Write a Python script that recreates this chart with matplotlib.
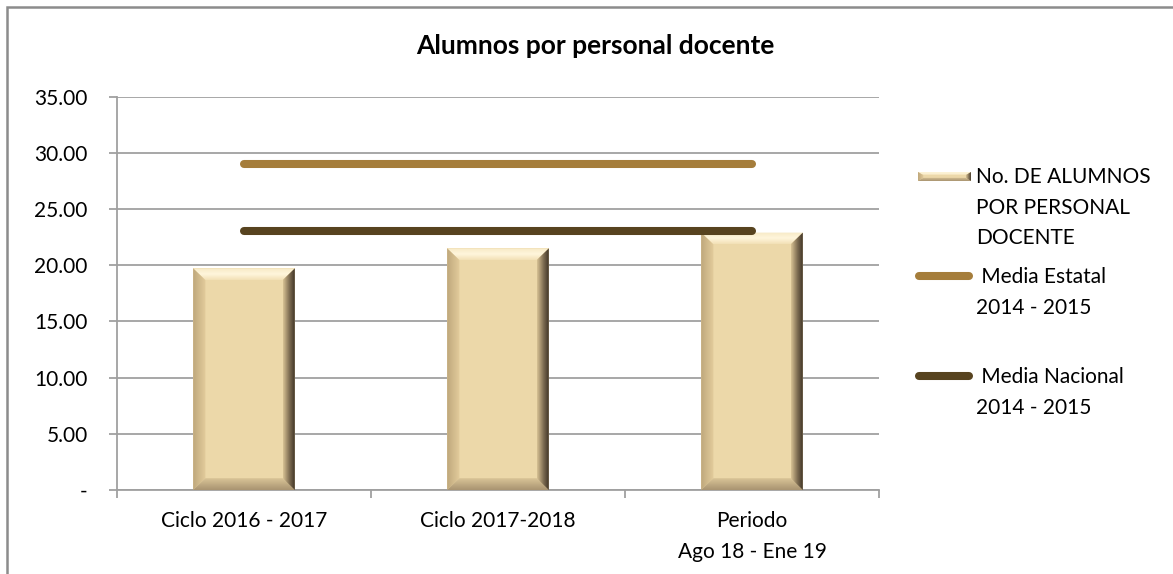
import matplotlib
matplotlib.use("Agg")
import matplotlib.pyplot as plt
import numpy as np
from matplotlib.lines import Line2D
from matplotlib.patches import Polygon, Rectangle
from matplotlib.colors import LinearSegmentedColormap

plt.rcParams["font.family"] = ["Lato", "DejaVu Sans"]

# Data
categories = ["Ciclo 2016 - 2017", "Ciclo 2017-2018", "Periodo\nAgo 18 - Ene 19"]
alumnos = [19.72, 21.5, 22.9]
media_estatal = [29.0, 29.0, 29.0]
media_nacional = [23.0, 23.0, 23.0]
y_ticks = [0, 5, 10, 15, 20, 25, 30, 35]

label_bar = "No. DE ALUMNOS\nPOR PERSONAL\nDOCENTE"
label_estatal = " Media Estatal\n2014 - 2015"
label_nacional = " Media Nacional\n2014 - 2015"

face = "#ECD8A9"
col_estatal = "#A57D3B"
col_nacional = "#57431F"
grid_col = "#A0A0A0"
fs = 15


def gradient_fill(ax, poly_pts, colors, horizontal, extent):
    cmap = LinearSegmentedColormap.from_list("g", colors)
    grad = np.linspace(0, 1, 64)
    arr = grad.reshape(1, -1) if horizontal else grad.reshape(-1, 1)
    poly = Polygon(poly_pts, closed=True, facecolor="none", edgecolor="none",
                   transform=ax.transData)
    ax.add_patch(poly)
    im = ax.imshow(arr, cmap=cmap, extent=extent, origin="lower",
                   aspect="auto", interpolation="bilinear", zorder=3)
    im.set_clip_path(poly)


def bevel(ax, x0, x1, y0, y1, dx, dy):
    # top
    gradient_fill(ax, [(x0, y1), (x1, y1), (x1 - dx, y1 - dy), (x0 + dx, y1 - dy)],
                  ["#F2E0B6", "#FFF6DC", "#F7E9C6"], False, [x0, x1, y1 - dy, y1])
    # left
    gradient_fill(ax, [(x0, y1), (x0 + dx, y1 - dy), (x0 + dx, y0 + dy), (x0, y0)],
                  ["#BFA77C", "#E3CD9C"], True, [x0, x0 + dx, y0, y1])
    # bottom
    gradient_fill(ax, [(x0, y0), (x0 + dx, y0 + dy), (x1 - dx, y0 + dy), (x1, y0)],
                  ["#A99471", "#D9C497"], False, [x0, x1, y0, y0 + dy])
    # right
    gradient_fill(ax, [(x1, y1), (x1, y0), (x1 - dx, y0 + dy), (x1 - dx, y1 - dy)],
                  ["#D8C294", "#7E6D52", "#352B20"], True, [x1 - dx, x1, y0, y1])


fig = plt.figure(figsize=(11.73, 5.74), dpi=100)
ax = fig.add_axes([117 / 1173, 84 / 574, 762 / 1173, 393.4 / 574])

x = np.arange(len(categories))
bars = ax.bar(x, alumnos, width=0.4, color=face, zorder=2)
for b in bars:
    bevel(ax, b.get_x(), b.get_x() + b.get_width(), 0, b.get_height(), 0.048, 1.05)

ax.plot(x, media_estatal, color=col_estatal, lw=5.8, solid_capstyle="round", zorder=4)
ax.plot(x, media_nacional, color=col_nacional, lw=5.8, solid_capstyle="round", zorder=4)

ax.set_xlim(-0.5, len(categories) - 0.5)
ax.set_ylim(0, 35)

ax.set_yticks(y_ticks)
ax.set_yticklabels(["-" if v == 0 else f"{v:.2f}" for v in y_ticks])
ax.yaxis.grid(True, color=grid_col, lw=1.3, zorder=0)
ax.set_axisbelow(True)

ax.set_xticks(x)
ax.set_xticklabels(categories, linespacing=1.7)
ax.set_xticks(np.arange(len(categories) + 1) - 0.5, minor=True)
ax.tick_params(axis="x", which="major", length=0, pad=15, labelsize=fs)
ax.tick_params(axis="x", which="minor", length=6, width=1.3, color=grid_col, direction="out")
ax.tick_params(axis="y", length=6, width=1.3, color=grid_col, pad=15, labelsize=fs)

for side in ["top", "right"]:
    ax.spines[side].set_visible(False)
for side in ["left", "bottom"]:
    ax.spines[side].set_color(grid_col)
    ax.spines[side].set_linewidth(1.3)

fig.text(595 / 1173, 1 - 46 / 574, "Alumnos por personal docente",
         ha="center", va="center", fontsize=19, fontweight="bold")

# Legend drawn by hand so handles line up with the first text line
def fy(py):
    return 1 - py / 574

hax = fig.add_axes([918 / 1173, fy(181), 53 / 1173, 9 / 574])
hax.set_xlim(0, 1)
hax.set_ylim(0, 1)
hax.axis("off")
hax.add_patch(Rectangle((0, 0), 1, 1, facecolor=face, zorder=2))
bevel(hax, 0, 1, 0, 1, 0.1, 0.35)

fig.add_artist(Line2D([919 / 1173, 969 / 1173], [fy(276), fy(276)], color=col_estatal,
                      lw=5.8, solid_capstyle="round"))
fig.add_artist(Line2D([919 / 1173, 969 / 1173], [fy(376), fy(376)], color=col_nacional,
                      lw=5.8, solid_capstyle="round"))

for label, py in [(label_bar, 176), (label_estatal, 276), (label_nacional, 376)]:
    fig.text(976 / 1173, fy(py - 9), label, ha="left", va="top",
             fontsize=fs, linespacing=1.67)

# Outer chart border (partly cut off on right and bottom)
fig.add_artist(Rectangle((7 / 1173, -0.1), 1.2, 1.1 - 7 / 574,
                         transform=fig.transFigure, fill=False,
                         edgecolor="#8C8C8C", lw=1.8))

fig.savefig("out.png", dpi=100)
